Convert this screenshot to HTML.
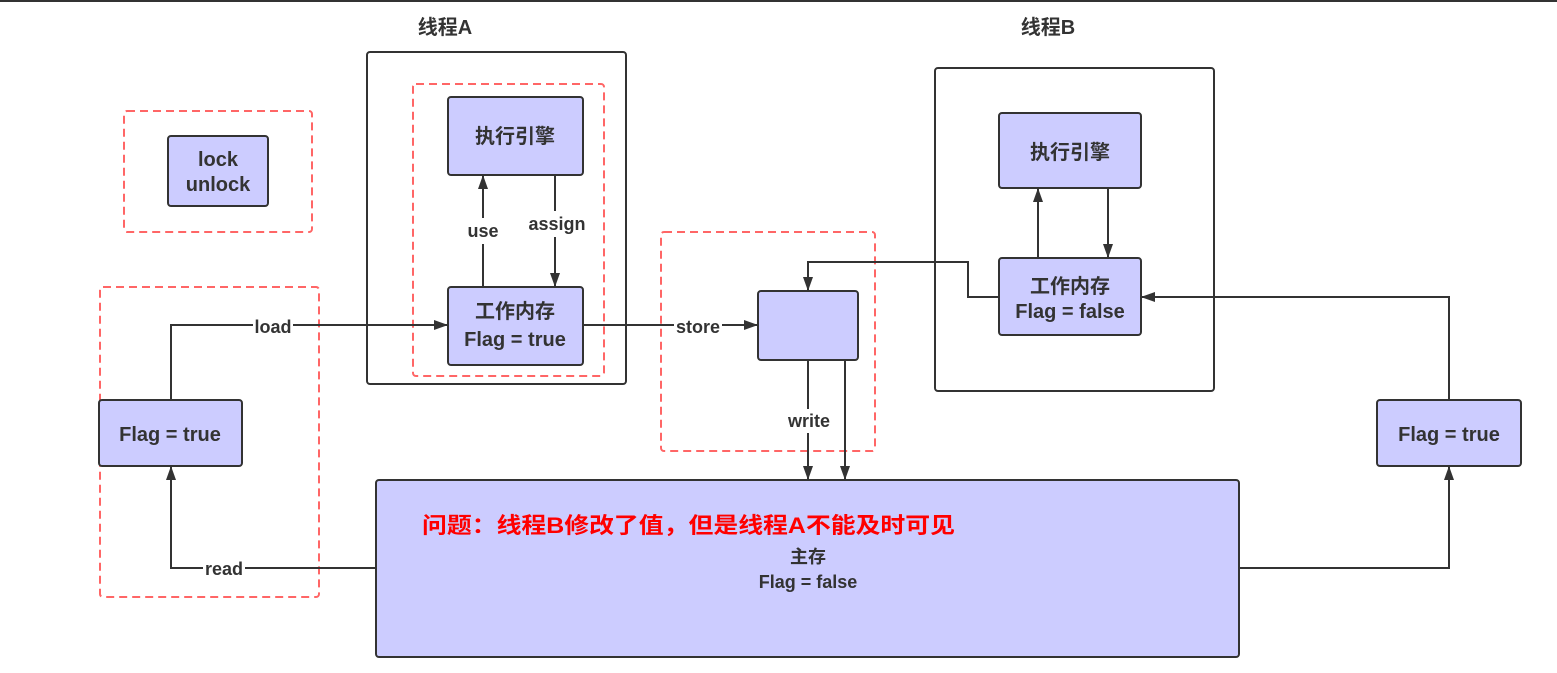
<!DOCTYPE html>
<html><head><meta charset="utf-8"><style>
html,body{margin:0;padding:0;background:#fff;}
svg{display:block;}
text{font-family:"Liberation Sans","Noto Sans CJK SC",sans-serif;font-weight:bold;fill:#333;}
</style></head><body>
<svg width="1557" height="673" viewBox="0 0 1557 673" xmlns="http://www.w3.org/2000/svg">
<defs>
<marker id="b" viewBox="0 0 14 10" markerWidth="14" markerHeight="10" refX="14" refY="5" orient="auto" markerUnits="userSpaceOnUse"><path d="M0,0 L14,5 L0,10 Z" fill="#333"/></marker></defs>
<line x1="0" y1="1" x2="1557" y2="1" stroke="#333" stroke-width="2"/>
<g fill="none" stroke="#333" stroke-width="2">
<rect x="367" y="52" width="259" height="332" rx="3"/>
<rect x="935" y="68" width="279" height="323" rx="3"/>
</g>
<g fill="none" stroke="#ff6666" stroke-width="2" stroke-dasharray="8,5">
<rect x="124" y="111" width="188" height="121" rx="3"/>
<rect x="413" y="84" width="191" height="292" rx="3"/>
<rect x="100" y="287" width="219" height="310" rx="3"/>
<rect x="661" y="232" width="214" height="219" rx="3"/>
</g>
<g fill="#ccccff" stroke="#333" stroke-width="2">
<rect x="168" y="136" width="100" height="70" rx="3"/>
<rect x="448" y="97" width="135" height="78" rx="3"/>
<rect x="448" y="287" width="135" height="78" rx="3"/>
<rect x="99" y="400" width="143" height="66" rx="3"/>
<rect x="758" y="291" width="100" height="69" rx="3"/>
<rect x="999" y="113" width="142" height="75" rx="3"/>
<rect x="999" y="258" width="142" height="77" rx="3"/>
<rect x="1377" y="400" width="144" height="66" rx="3"/>
<rect x="376" y="480" width="863" height="177" rx="3"/>
</g>
<g fill="none" stroke="#333" stroke-width="2">
<path d="M483,287 V175" marker-end="url(#b)"/>
<path d="M555,175 V287" marker-end="url(#b)"/>
<path d="M171,400 V325 H448" marker-end="url(#b)"/>
<path d="M376,568 H171 V466" marker-end="url(#b)"/>
<path d="M583,325 H758" marker-end="url(#b)"/>
<path d="M808,360 V480" marker-end="url(#b)"/>
<path d="M845,360 V480" marker-end="url(#b)"/>
<path d="M999,297 H968 V262 H808 V291" marker-end="url(#b)"/>
<path d="M1038,258 V188" marker-end="url(#b)"/>
<path d="M1108,188 V258" marker-end="url(#b)"/>
<path d="M1239,568 H1449 V466" marker-end="url(#b)"/>
<path d="M1449,400 V297 H1141" marker-end="url(#b)"/>
</g>
<g fill="#fff">
<rect x="466" y="218" width="34" height="26"/>
<rect x="526" y="211" width="60" height="26"/>
<rect x="253" y="315" width="40" height="24"/>
<rect x="203" y="557" width="42" height="24"/>
<rect x="674" y="315" width="48" height="24"/>
<rect x="785" y="409" width="48" height="24"/>
</g>
<g font-size="20" text-anchor="middle">
<text x="445" y="34">线程A</text>
<text x="1048" y="34">线程B</text>
<text x="218" y="166">lock</text>
<text x="218" y="191">unlock</text>
<text x="515" y="143">执行引擎</text>
<text x="515" y="318">工作内存</text>
<text x="515" y="346">Flag = true</text>
<text x="170" y="441">Flag = true</text>
<text x="1070" y="159">执行引擎</text>
<text x="1070" y="293">工作内存</text>
<text x="1070" y="318">Flag = false</text>
<text x="1449" y="441">Flag = true</text>
</g>
<g font-size="18" text-anchor="middle">
<text x="808" y="563">主存</text>
<text x="808" y="588">Flag = false</text>
<text x="483" y="237">use</text>
<text x="557" y="230">assign</text>
<text x="273" y="333">load</text>
<text x="224" y="575">read</text>
<text x="698" y="333">store</text>
<text x="809" y="427">write</text>
</g>
<text x="422" y="533" font-size="22" textLength="533" lengthAdjust="spacingAndGlyphs" style="fill:#ff0000">问题：线程B修改了值，但是线程A不能及时可见</text>
</svg>
</body></html>
